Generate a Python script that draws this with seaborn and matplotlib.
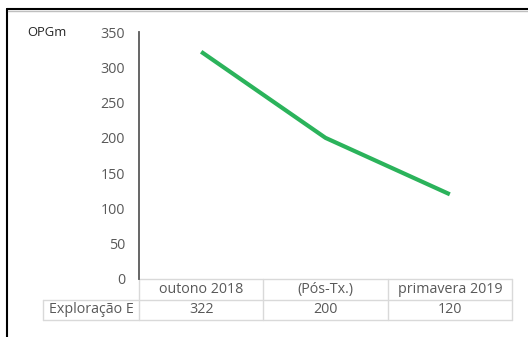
import matplotlib
matplotlib.use("Agg")
import matplotlib.pyplot as plt
import matplotlib.transforms as mtransforms
from matplotlib.lines import Line2D
import seaborn as sns
import pandas as pd

# Series data
categories = ["outono 2018", "(Pós-Tx.)", "primavera 2019"]
values = [322, 200, 120]
series_name = "Exploração E"
y_label = "OPGm"
y_ticks = [0, 50, 100, 150, 200, 250, 300, 350]

sns.set_theme(style="white")
plt.rcParams["font.family"] = ["Open Sans", "DejaVu Sans"]

TEXT = "#595959"
GRID = "#d9d9d9"
GREEN = "#2bb35b"
FS = 10.3

df = pd.DataFrame({"periodo": categories, "valor": values, "x": range(len(categories))})

fig = plt.figure(figsize=(5.28, 3.37), dpi=100)
ax = fig.add_axes([139 / 528, 58 / 337, 373 / 528, 247 / 337])

sns.lineplot(data=df, x="x", y="valor", color=GREEN, linewidth=3.0,
             ax=ax, legend=False, solid_capstyle="butt")

ax.set_xlim(-0.5, len(categories) - 0.5)
ax.set_ylim(0, 350)
ax.set_yticks(y_ticks)
ax.set_yticklabels([str(t) for t in y_ticks], fontsize=FS, color=TEXT)
ax.tick_params(axis="y", length=0, pad=10)
ax.set_xticks([])
ax.set_xlabel("")
ax.set_ylabel("")
for side in ["top", "right", "bottom"]:
    ax.spines[side].set_visible(False)
ax.spines["left"].set_color(TEXT)
ax.spines["left"].set_linewidth(1.3)

# Data table under the plot: x in category units, y in axes fraction
trans = mtransforms.blended_transform_factory(ax.transData, ax.transAxes)
row_h = 20.5 / 247
label_left = -0.5 - 96 / 124.3
x_left_cat = -0.5
x_right = len(categories) - 0.5

line_kw = dict(transform=trans, color=GRID, linewidth=1.0, clip_on=False)
# horizontal rules
ax.add_line(Line2D([x_left_cat, x_right], [0, 0], **line_kw))
ax.add_line(Line2D([label_left, x_right], [-row_h, -row_h], **line_kw))
ax.add_line(Line2D([label_left, x_right], [-2 * row_h, -2 * row_h], **line_kw))
# vertical rules
ax.add_line(Line2D([label_left, label_left], [-row_h, -2 * row_h], **line_kw))
for i in range(len(categories) + 1):
    xv = i - 0.5
    ax.add_line(Line2D([xv, xv], [0, -2 * row_h], **line_kw))

for i, (cat, val) in enumerate(zip(categories, values)):
    ax.text(i, -row_h / 2, cat, transform=trans, ha="center", va="center",
            fontsize=FS, color=TEXT, clip_on=False)
    ax.text(i, -1.5 * row_h, str(val), transform=trans, ha="center", va="center",
            fontsize=FS, color=TEXT, clip_on=False)
ax.text((label_left + x_left_cat) / 2, -1.5 * row_h, series_name, transform=trans,
        ha="center", va="center", fontsize=FS, color=TEXT, clip_on=False)

# Axis title at top-left
fig.text(27 / 528, 1 - 33 / 337, y_label, ha="left", va="center",
         fontsize=9.4, color="#262626")

# Chart frame edges
fig.add_artist(Line2D([7 / 528, 7 / 528], [0, 1 - 9 / 337], transform=fig.transFigure,
                      color="black", linewidth=1.5))
fig.add_artist(Line2D([7 / 528, 1], [1 - 9 / 337, 1 - 9 / 337], transform=fig.transFigure,
                      color="black", linewidth=1.5))
fig.add_artist(Line2D([8 / 528, 1], [1 - 11 / 337, 1 - 11 / 337], transform=fig.transFigure,
                      color="#bfbfbf", linewidth=1.0))

fig.savefig("out.png", dpi=100, facecolor="white")
